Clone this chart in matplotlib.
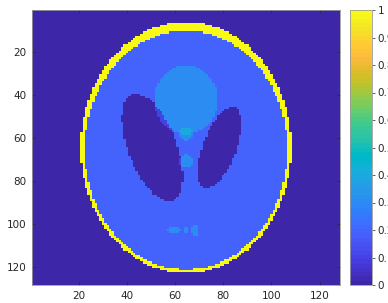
import numpy as np
import matplotlib
matplotlib.use('Agg')
from matplotlib import pyplot as plt
from matplotlib.colors import ListedColormap

# Modified Shepp-Logan phantom, 128x128: one row per ellipse
n_pix = 128
intensity = [1.0, -0.8, -0.2, -0.2, 0.1, 0.1, 0.1, 0.1, 0.1, 0.1]
semi_a = [0.69, 0.6624, 0.11, 0.16, 0.21, 0.046, 0.046, 0.046, 0.023, 0.023]
semi_b = [0.92, 0.874, 0.31, 0.41, 0.25, 0.046, 0.046, 0.023, 0.023, 0.046]
center_x = [0.0, 0.0, 0.22, -0.22, 0.0, 0.0, 0.0, -0.08, 0.0, 0.06]
center_y = [0.0, -0.0184, 0.0, 0.0, 0.35, 0.1, -0.1, -0.605, -0.606, -0.605]
angle_deg = [0, 0, -18, 18, 0, 0, 0, 0, 0, 0]
cbar_ticks = [0, 0.1, 0.2, 0.3, 0.4, 0.5, 0.6, 0.7, 0.8, 0.9, 1]
axis_ticks = [20, 40, 60, 80, 100, 120]

# parula (64 colours)
parula = [
    [0.2422, 0.1504, 0.6603], [0.2504, 0.1650, 0.7076], [0.2578, 0.1818, 0.7511], [0.2647, 0.1978, 0.7952],
    [0.2706, 0.2147, 0.8364], [0.2751, 0.2342, 0.8710], [0.2783, 0.2559, 0.8991], [0.2803, 0.2782, 0.9221],
    [0.2813, 0.3006, 0.9414], [0.2810, 0.3228, 0.9579], [0.2795, 0.3447, 0.9717], [0.2760, 0.3667, 0.9829],
    [0.2699, 0.3892, 0.9906], [0.2602, 0.4123, 0.9952], [0.2440, 0.4358, 0.9988], [0.2206, 0.4603, 0.9973],
    [0.1963, 0.4847, 0.9892], [0.1834, 0.5074, 0.9798], [0.1786, 0.5289, 0.9682], [0.1764, 0.5499, 0.9520],
    [0.1687, 0.5703, 0.9359], [0.1540, 0.5902, 0.9218], [0.1460, 0.6091, 0.9079], [0.1380, 0.6276, 0.8973],
    [0.1248, 0.6459, 0.8883], [0.1113, 0.6635, 0.8763], [0.0952, 0.6798, 0.8598], [0.0689, 0.6948, 0.8394],
    [0.0297, 0.7082, 0.8163], [0.0036, 0.7203, 0.7917], [0.0067, 0.7312, 0.7660], [0.0433, 0.7411, 0.7394],
    [0.0964, 0.7500, 0.7120], [0.1408, 0.7584, 0.6842], [0.1717, 0.7670, 0.6554], [0.1938, 0.7758, 0.6251],
    [0.2161, 0.7843, 0.5923], [0.2470, 0.7918, 0.5567], [0.2906, 0.7973, 0.5188], [0.3406, 0.8008, 0.4789],
    [0.3909, 0.8029, 0.4354], [0.4456, 0.8024, 0.3909], [0.5044, 0.7993, 0.3480], [0.5616, 0.7942, 0.3045],
    [0.6174, 0.7876, 0.2612], [0.6720, 0.7793, 0.2227], [0.7242, 0.7698, 0.1910], [0.7738, 0.7598, 0.1646],
    [0.8203, 0.7498, 0.1535], [0.8634, 0.7406, 0.1596], [0.9035, 0.7330, 0.1774], [0.9393, 0.7288, 0.2100],
    [0.9728, 0.7298, 0.2394], [0.9956, 0.7434, 0.2371], [0.9970, 0.7659, 0.2199], [0.9952, 0.7893, 0.2028],
    [0.9892, 0.8136, 0.1885], [0.9786, 0.8386, 0.1766], [0.9676, 0.8639, 0.1643], [0.9610, 0.8890, 0.1537],
    [0.9597, 0.9135, 0.1423], [0.9628, 0.9373, 0.1265], [0.9691, 0.9606, 0.1064], [0.9769, 0.9839, 0.0805],
]
cmap = ListedColormap(parula)

# build the phantom image from the ellipse table
ax_vals = (np.arange(n_pix) - (n_pix - 1) / 2) / ((n_pix - 1) / 2)
xx = np.tile(ax_vals, (n_pix, 1))
yy = np.rot90(xx)
img = np.zeros((n_pix, n_pix))
for A, a, b, x0, y0, phi in zip(intensity, semi_a, semi_b, center_x, center_y, angle_deg):
    p = np.deg2rad(phi)
    x = xx - x0
    y = yy - y0
    inside = ((x * np.cos(p) + y * np.sin(p)) ** 2 / a ** 2
              + (y * np.cos(p) - x * np.sin(p)) ** 2 / b ** 2) <= 1
    img[inside] += A

W, H = 388, 303
fig = plt.figure(figsize=(W / 100, H / 100), dpi=100)
ax = fig.add_axes([32 / W, 18 / H, 308 / W, 275 / H])
im = ax.imshow(img, cmap=cmap, vmin=img.min(), vmax=img.max(), aspect='auto',
               interpolation='nearest', extent=[0.5, n_pix + 0.5, n_pix + 0.5, 0.5])
ax.set_xticks(axis_ticks)
ax.set_yticks(axis_ticks)
ax.tick_params(direction='in', length=2.5, width=0.5, labelsize=7.5, colors='#262626',
               top=True, right=True, pad=4)
for s in ax.spines.values():
    s.set_color('#9a9a9a')
    s.set_linewidth(0.6)

cax = fig.add_axes([350 / W, 18 / H, 22 / W, 275 / H])
cb = fig.colorbar(im, cax=cax, ticks=cbar_ticks)
cb.ax.set_yticklabels([f'{t:g}' for t in cbar_ticks])
cb.ax.tick_params(direction='out', length=2, width=0.5, labelsize=7.5, colors='#262626', pad=2)
cb.outline.set_edgecolor('#9a9a9a')
cb.outline.set_linewidth(0.6)

fig.savefig('out.png', dpi=100)
